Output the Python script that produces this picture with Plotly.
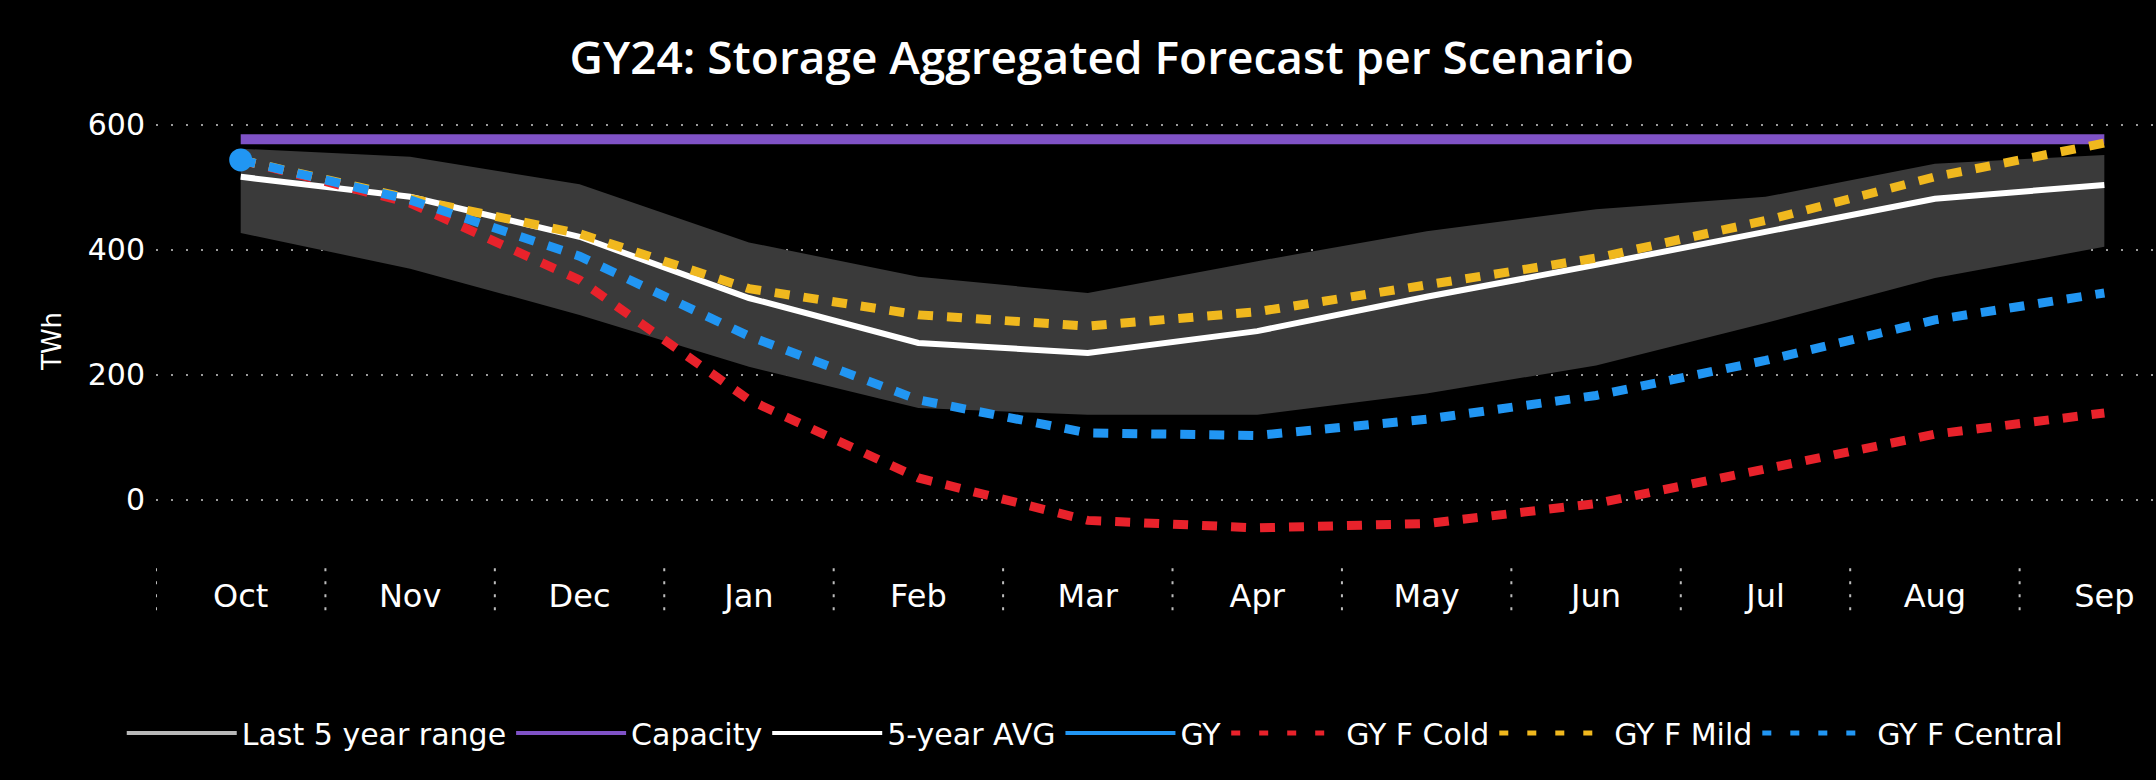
import plotly.graph_objects as go

# Gas year months (Oct -> Sep)
months = ["Oct", "Nov", "Dec", "Jan", "Feb", "Mar", "Apr", "May", "Jun", "Jul", "Aug", "Sep"]

# Storage levels in TWh
range_low = [427, 370, 296, 213, 147, 136, 136, 170, 215, 283, 355, 405]
range_high = [562, 549, 505, 412, 357, 331, 382, 430, 465, 485, 538, 552]
capacity = [577, 577, 577, 577, 577, 577, 577, 577, 577, 577, 577, 577]
avg_5y = [517, 485, 421, 323, 251, 235, 270, 325, 376, 430, 482, 504]
gy_actual = [544, None, None, None, None, None, None, None, None, None, None, None]
gy_cold = [544, 475, 352, 160, 35, -33, -45, -38, -6, 48, 105, 139]
gy_mild = [544, 482, 426, 338, 296, 278, 301, 343, 387, 447, 517, 571]
gy_central = [544, 480, 390, 262, 160, 107, 103, 129, 167, 223, 288, 331]

y_ticks = [0, 200, 400, 600]

FONT = "DejaVu Sans"
BAND = "#3a3a3a"
PURPLE = "#7f52c6"
BLUE = "#2196f3"
RED = "#e8222b"
YELLOW = "#f0b81e"
DOTS = "15px,14px"
LEGEND_DOTS = "9px,19px"

fig = go.Figure()

# Last 5 year range band
fig.add_trace(go.Scatter(x=months, y=range_low, mode="lines",
                         line=dict(width=0, color=BAND), showlegend=False, hoverinfo="skip"))
fig.add_trace(go.Scatter(x=months, y=range_high, mode="lines", fill="tonexty",
                         fillcolor=BAND, line=dict(width=0, color=BAND),
                         showlegend=False, hoverinfo="skip"))

# Plotted series (legend entries are drawn separately with thinner keys)
fig.add_trace(go.Scatter(x=months, y=capacity, mode="lines", name="Capacity",
                         line=dict(color=PURPLE, width=10), showlegend=False))
fig.add_trace(go.Scatter(x=months, y=avg_5y, mode="lines", name="5-year AVG",
                         line=dict(color="#ffffff", width=6), showlegend=False))
fig.add_trace(go.Scatter(x=months, y=gy_cold, mode="lines", name="GY F Cold",
                         line=dict(color=RED, width=9, dash=DOTS), showlegend=False))
fig.add_trace(go.Scatter(x=months, y=gy_mild, mode="lines", name="GY F Mild",
                         line=dict(color=YELLOW, width=9, dash=DOTS), showlegend=False))
fig.add_trace(go.Scatter(x=months, y=gy_central, mode="lines", name="GY F Central",
                         line=dict(color=BLUE, width=9, dash=DOTS), showlegend=False))
fig.add_trace(go.Scatter(x=months, y=gy_actual, mode="markers", name="GY", showlegend=False,
                         marker=dict(color=BLUE, size=23)))

# Legend keys
legend_keys = [
    ("Last 5 year range", "#b8b8b8", None),
    ("Capacity", PURPLE, None),
    ("5-year AVG", "#ffffff", None),
    ("GY", BLUE, None),
    ("GY F Cold", RED, LEGEND_DOTS),
    ("GY F Mild", YELLOW, LEGEND_DOTS),
    ("GY F Central", BLUE, LEGEND_DOTS),
]
for name, color, dash in legend_keys:
    fig.add_trace(go.Scatter(x=[None], y=[None], mode="lines", name=name,
                             line=dict(color=color, width=5 if dash else 4, dash=dash)))

# dotted separators between month labels
for i in range(len(months)):
    fig.add_shape(type="line", xref="x", yref="paper", x0=i - 0.5, x1=i - 0.5,
                  y0=-0.027, y1=-0.14, line=dict(color="#bdbdbd", width=2, dash="3px,10px"))

fig.add_annotation(text="TWh", xref="paper", yref="paper",
                   x=(52 - 156) / 2000, y=(556 - 342) / 456, xanchor="center", yanchor="middle",
                   textangle=-90, showarrow=False, font=dict(family=FONT, size=26, color="#ffffff"))

fig.update_layout(
    width=2156, height=780,
    paper_bgcolor="#000000", plot_bgcolor="#000000",
    margin=dict(l=156, r=0, t=100, b=224),
    title=dict(text="GY24: Storage Aggregated Forecast per Scenario",
               x=0.511, xref="container", y=1 - 58 / 780, yref="container",
               xanchor="center", yanchor="middle",
               font=dict(family="Open Sans", size=46, color="#ffffff", weight=600)),
    showlegend=True,
    legend=dict(orientation="h", xref="container", yref="container", traceorder="normal",
                x=0.508, y=1 - 733 / 780, xanchor="center", yanchor="middle",
                font=dict(family=FONT, size=30, color="#ffffff"),
                bgcolor="rgba(0,0,0,0)", itemwidth=110, tracegroupgap=0),
    xaxis=dict(type="category", range=[-0.5, 11.305], showgrid=False, zeroline=False,
               showline=False, ticks="", ticklabelstandoff=18,
               tickfont=dict(family=FONT, size=32, color="#ffffff")),
    yaxis=dict(range=[-90, 640], tickvals=y_ticks, showgrid=True, gridcolor="#9a9a9a",
               gridwidth=2, griddash="2px,13px", zeroline=False, showline=False,
               ticklabelstandoff=10,
               tickfont=dict(family=FONT, size=30, color="#ffffff")),
)

fig.write_html("out.html")
